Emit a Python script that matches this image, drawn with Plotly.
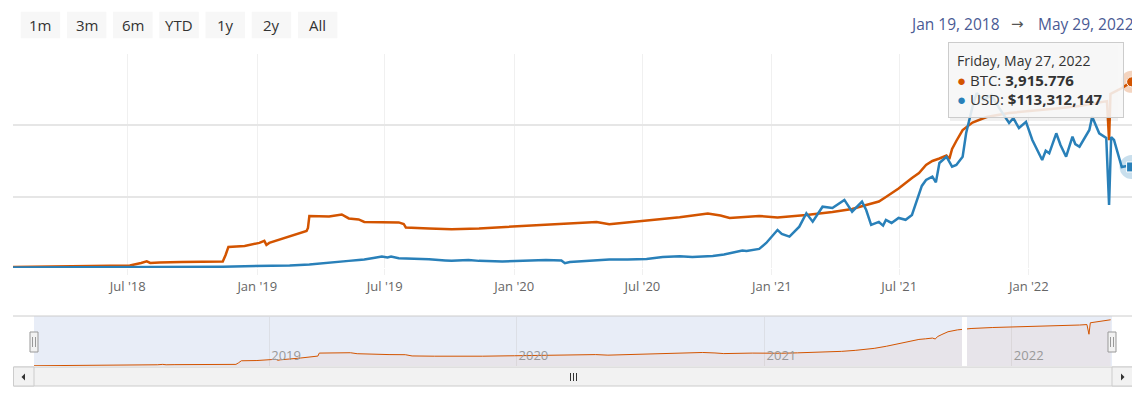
import plotly.graph_objects as go

# ---- data ----
btc_dates = [
    "2018-01-19", "2018-03-13", "2018-05-22", "2018-07-04", "2018-07-20", "2018-07-28",
    "2018-08-02", "2018-08-15", "2018-09-15", "2018-10-11", "2018-11-13", "2018-11-17",
    "2018-11-21", "2018-12-14", "2019-01-04", "2019-01-11", "2019-01-14", "2019-01-18",
    "2019-02-16", "2019-03-12", "2019-03-14", "2019-03-16", "2019-04-13", "2019-05-01",
    "2019-05-11", "2019-05-25", "2019-06-02", "2019-06-27", "2019-07-21", "2019-07-28",
    "2019-07-31", "2019-09-02", "2019-10-04", "2019-11-12", "2019-12-29", "2020-02-15",
    "2020-03-20", "2020-04-27", "2020-05-15", "2020-06-05", "2020-07-07", "2020-08-23",
    "2020-10-02", "2020-10-20", "2020-11-02", "2020-12-14", "2021-01-09", "2021-01-26",
    "2021-02-19", "2021-03-28", "2021-04-25", "2021-05-15", "2021-06-02", "2021-06-12",
    "2021-06-30", "2021-07-19", "2021-07-29", "2021-08-08", "2021-08-17", "2021-08-27",
    "2021-09-06", "2021-09-10", "2021-09-14", "2021-09-20", "2021-09-29", "2021-10-13",
    "2021-11-02", "2021-12-04", "2022-01-06", "2022-02-09", "2022-03-14", "2022-04-11",
    "2022-04-22", "2022-04-25", "2022-04-27", "2022-05-13", "2022-05-27",
]
btc_values = [
    21, 30, 42, 52, 105, 137,
    105, 116, 126, 137, 137, 273,
    442, 463, 526, 568, 484, 526,
    673, 778, 841, 1094, 1083, 1125,
    1041, 1020, 967, 967, 957, 925,
    852, 831, 814, 831, 868, 919,
    940, 967, 919, 950, 995, 1066,
    1146, 1104, 1052, 1094, 1062, 1079,
    1115, 1178, 1241, 1325, 1398, 1493,
    1672, 1893, 1998, 2166, 2250, 2303,
    2366, 2290, 2503, 2671, 2902, 3060,
    3175, 3260, 3302, 3354, 3407, 3470,
    3510, 2690, 3660, 3785, 3915.776,
]

usd_dates = [
    "2018-01-19", "2018-04-01", "2018-07-04", "2018-09-15", "2018-11-13", "2018-12-14",
    "2019-01-18", "2019-02-16", "2019-03-16", "2019-04-13", "2019-05-11", "2019-05-25",
    "2019-06-02", "2019-06-15", "2019-06-27", "2019-07-05", "2019-07-10", "2019-07-21",
    "2019-08-10", "2019-09-02", "2019-09-25", "2019-10-04", "2019-10-28", "2019-11-12",
    "2019-12-15", "2020-01-15", "2020-02-15", "2020-03-08", "2020-03-13", "2020-03-20",
    "2020-04-27", "2020-05-15", "2020-06-10", "2020-07-07", "2020-07-30", "2020-08-23",
    "2020-09-10", "2020-10-09", "2020-10-25", "2020-11-02", "2020-11-20", "2020-11-26",
    "2020-12-14", "2020-12-24", "2021-01-09", "2021-01-15", "2021-01-26", "2021-02-09",
    "2021-02-19", "2021-02-28", "2021-03-14", "2021-03-28", "2021-04-14", "2021-04-25",
    "2021-05-09", "2021-05-15", "2021-05-22", "2021-06-02", "2021-06-08", "2021-06-12",
    "2021-06-20", "2021-06-30", "2021-07-10", "2021-07-19", "2021-07-29", "2021-08-02",
    "2021-08-08", "2021-08-17", "2021-08-22", "2021-08-27", "2021-09-06", "2021-09-14",
    "2021-09-20", "2021-09-29", "2021-10-04", "2021-10-13", "2021-10-19", "2021-10-28",
    "2021-11-09", "2021-11-20", "2021-12-04", "2021-12-10", "2021-12-18", "2021-12-28",
    "2022-01-06", "2022-01-20", "2022-01-25", "2022-01-30", "2022-02-09", "2022-02-15",
    "2022-02-23", "2022-03-04", "2022-03-08", "2022-03-14", "2022-03-28", "2022-04-01",
    "2022-04-11", "2022-04-21", "2022-04-25", "2022-04-28", "2022-05-02", "2022-05-09",
    "2022-05-13", "2022-05-20", "2022-05-27",
]
usd_values = [
    0.56e6, 0.56e6, 0.8e6, 1.1e6, 1.3e6, 1.9e6,
    2.2e6, 2.8e6, 3.9e6, 5.6e6, 7.9e6, 9.0e6,
    9.5e6, 11.2e6, 12.9e6, 11.8e6, 12.7e6, 10.9e6,
    10.7e6, 9.8e6, 8.4e6, 7.9e6, 9.0e6, 7.9e6,
    7.1e6, 7.9e6, 9.0e6, 8.4e6, 5.3e6, 6.7e6,
    9.0e6, 9.5e6, 9.5e6, 10.1e6, 12.3e6, 13.1e6,
    12.3e6, 13.5e6, 15.1e6, 16.5e6, 19.6e6, 19.1e6,
    21.3e6, 28.0e6, 42.6e6, 38.1e6, 35.1e6, 46.3e6,
    61.3e6, 51.9e6, 68.7e6, 67.3e6, 76.3e6, 63.1e6,
    74.4e6, 65.0e6, 48.2e6, 51.6e6, 47.5e6, 53.8e6,
    50.5e6, 56.1e6, 54.0e6, 59.4e6, 83.8e6, 92.0e6,
    98.7e6, 102.4e6, 96.0e6, 117.8e6, 124.8e6, 113.6e6,
    115.5e6, 124.8e6, 151.4e6, 180.9e6, 196.3e6, 188.4e6,
    194.0e6, 179.4e6, 162.6e6, 168.0e6, 157.0e6, 164.0e6,
    143.6e6, 121.1e6, 131.5e6, 128.6e6, 151.1e6, 138.0e6,
    124.8e6, 147.3e6, 139.0e6, 136.0e6, 154.8e6, 169.7e6,
    151.1e6, 146.0e6, 70.7e6, 146.9e6, 143.6e6, 124.5e6,
    113.3e6, 114.4e6, 113312147,
]

tick_dates = ["2018-07-01", "2019-01-01", "2019-07-01", "2020-01-01",
              "2020-07-01", "2021-01-01", "2021-07-01", "2022-01-01"]
tick_labels = ["Jul '18", "Jan '19", "Jul '19", "Jan '20",
               "Jul '20", "Jan '21", "Jul '21", "Jan '22"]
nav_tick_dates = ["2019-01-01", "2020-01-01", "2021-01-01", "2022-01-01"]
nav_tick_labels = ["2019", "2020", "2021", "2022"]
range_buttons = ["1m", "3m", "6m", "YTD", "1y", "2y", "All"]
date_from = "Jan 19, 2018"
date_to = "May 29, 2022"
hover_day = "Friday, May 27, 2022"
x_range = ["2018-01-19", "2022-05-29"]

ORANGE = "#d35400"
BLUE = "#2980b9"
FONT = "Open Sans"


# page pixel -> paper helpers (plot area spans page x 13..1133, y 54..386;
# the page body adds an 8px margin so the figure itself starts at 8,8)
def fx(x):
    return (x - 13) / 1120


def fy(y):
    return (386 - y) / 332


fig = go.Figure()

# main series
fig.add_trace(go.Scatter(x=btc_dates, y=btc_values, mode='lines', name='BTC',
                         line=dict(color=ORANGE, width=2.5), xaxis='x', yaxis='y'))
fig.add_trace(go.Scatter(x=usd_dates, y=usd_values, mode='lines', name='USD',
                         line=dict(color=BLUE, width=2.5), xaxis='x', yaxis='y2'))

# hover halos + markers on the last point
fig.add_trace(go.Scatter(x=[btc_dates[-1]], y=[btc_values[-1]], mode='markers', cliponaxis=False,
                         marker=dict(size=22, color='rgba(211,84,0,0.25)'), xaxis='x', yaxis='y'))
fig.add_trace(go.Scatter(x=[btc_dates[-1]], y=[btc_values[-1]], mode='markers', cliponaxis=False,
                         marker=dict(size=10, color=ORANGE, line=dict(color='white', width=1)),
                         xaxis='x', yaxis='y'))
fig.add_trace(go.Scatter(x=[usd_dates[-1]], y=[usd_values[-1]], mode='markers', cliponaxis=False,
                         marker=dict(size=24, color='rgba(41,128,185,0.25)'), xaxis='x', yaxis='y2'))
fig.add_trace(go.Scatter(x=[usd_dates[-1]], y=[usd_values[-1]], mode='markers', cliponaxis=False,
                         marker=dict(size=10, symbol='square', color=BLUE, line=dict(color='white', width=1)),
                         xaxis='x', yaxis='y2'))

# navigator series
fig.add_trace(go.Scatter(x=btc_dates, y=btc_values, mode='lines', fill='tozeroy',
                         fillcolor='rgba(211,84,0,0.05)', line=dict(color=ORANGE, width=1),
                         xaxis='x2', yaxis='y3'))

shapes = []
annotations = []

# range buttons
for i, label in enumerate(range_buttons):
    left = 20.7 + i * 46.2
    shapes.append(dict(type='rect', xref='paper', yref='paper',
                       x0=fx(left), x1=fx(left + 39.5), y0=fy(38.3), y1=fy(11.7),
                       fillcolor='#f7f7f7', line=dict(width=0)))
    annotations.append(dict(text=label, xref='paper', yref='paper', x=fx(left + 19.75), y=fy(25),
                            xanchor='center', yanchor='middle', showarrow=False,
                            font=dict(family=FONT, size=15, color='#333333')))

# date range display
annotations.append(dict(text=date_from, xref='paper', yref='paper', x=fx(1002), y=fy(24),
                        xanchor='right', yanchor='middle', showarrow=False,
                        font=dict(family=FONT, size=15.5, color='#4a5a94')))
annotations.append(dict(text="\u2192", xref='paper', yref='paper', x=fx(1017), y=fy(24),
                        xanchor='center', yanchor='middle', showarrow=False,
                        font=dict(family="DejaVu Sans", size=15, color='#555555')))
annotations.append(dict(text=date_to, xref='paper', yref='paper', x=fx(1036), y=fy(24),
                        xanchor='left', yanchor='middle', showarrow=False,
                        font=dict(family=FONT, size=15.5, color='#4a5a94')))

# tooltip
tip = (f"<span style='font-size:14px'>{hover_day}</span><br>"
       f"<span style='color:{ORANGE}'>\u25cf</span> BTC: <b>{btc_values[-1]:,.3f}</b><br>"
       f"<span style='color:{BLUE}'>\u25cf</span> USD: <b>${usd_values[-1]:,.0f}</b>")
shapes.append(dict(type='rect', xref='paper', yref='paper', layer='above',
                   x0=fx(950), x1=fx(1118), y0=fy(121), y1=fy(45),
                   fillcolor='rgba(0,0,0,0.06)', line=dict(width=0)))
annotations.append(dict(text=tip, xref='paper', yref='paper', x=fx(947.5), y=fy(41.7),
                        xanchor='left', yanchor='top', align='left', showarrow=False,
                        width=158, height=58, borderpad=8, borderwidth=1,
                        bgcolor='rgba(247,247,247,0.88)', bordercolor='#cccccc',
                        font=dict(family=FONT, size=15, color='#333333')))

# navigator background (selected range mask) + odd gap
shapes.append(dict(type='rect', xref='paper', yref='paper', layer='below',
                   x0=fx(34), x1=fx(1112), y0=fy(366), y1=fy(316),
                   fillcolor='rgba(102,133,204,0.15)', line=dict(width=0)))
shapes.append(dict(type='rect', xref='paper', yref='paper', layer='above',
                   x0=fx(962), x1=fx(967), y0=fy(366), y1=fy(317),
                   fillcolor='white', line=dict(width=0)))
shapes.append(dict(type='line', xref='paper', yref='paper',
                   x0=fx(13), x1=fx(1133), y0=fy(316), y1=fy(316),
                   line=dict(color='#cccccc', width=1)))

# scrollbar
shapes.append(dict(type='rect', xref='paper', yref='paper',
                   x0=fx(13.5), x1=fx(1132.5), y0=fy(386), y1=fy(367),
                   fillcolor='#f2f2f2', line=dict(color='#cccccc', width=1)))
for a, b in [(13.5, 34), (1112, 1132.5)]:
    shapes.append(dict(type='rect', xref='paper', yref='paper',
                       x0=fx(a), x1=fx(b), y0=fy(386), y1=fy(367),
                       fillcolor='#f2f2f2', line=dict(color='#cccccc', width=1)))
shapes.append(dict(type='path', xref='paper', yref='paper',
                   path=f"M {fx(25)} {fy(373.5)} L {fx(25)} {fy(380.5)} L {fx(21.5)} {fy(377)} Z",
                   fillcolor='#333333', line=dict(width=0)))
shapes.append(dict(type='path', xref='paper', yref='paper',
                   path=f"M {fx(1121)} {fy(373.5)} L {fx(1121)} {fy(380.5)} L {fx(1124.5)} {fy(377)} Z",
                   fillcolor='#333333', line=dict(width=0)))
for gx in [570.5, 573.5, 576.5]:
    shapes.append(dict(type='line', xref='paper', yref='paper',
                       x0=fx(gx), x1=fx(gx), y0=fy(373), y1=fy(381),
                       line=dict(color='#333333', width=1)))

# navigator handles
for hx in [34, 1112]:
    shapes.append(dict(type='rect', xref='paper', yref='paper', layer='above',
                       x0=fx(hx - 4), x1=fx(hx + 4), y0=fy(352), y1=fy(332),
                       fillcolor='#f2f2f2', line=dict(color='#999999', width=1)))
    for dx in [-1.5, 1.5]:
        shapes.append(dict(type='line', xref='paper', yref='paper', layer='above',
                           x0=fx(hx + dx), x1=fx(hx + dx), y0=fy(347), y1=fy(337),
                           line=dict(color='#999999', width=1)))

fig.update_layout(
    width=1132, height=400,
    margin=dict(l=5, r=7, t=46, b=22),
    paper_bgcolor='white', plot_bgcolor='white',
    showlegend=False,
    hovermode=False,
    font=dict(family=FONT, size=13, color='#666666'),
    xaxis=dict(domain=[0, 1], anchor='y', range=x_range, type='date',
               tickvals=tick_dates, ticktext=tick_labels,
               showgrid=True, gridcolor='#f0f0f0', gridwidth=1,
               ticks='outside', ticklen=6, tickcolor='#f0f0f0',
               tickfont=dict(family=FONT, size=13, color='#666666'),
               showline=False, zeroline=False),
    yaxis=dict(domain=[fy(268), 1], anchor='x', range=[-2, 4502], dtick=1500, tick0=0,
               showticklabels=False, showgrid=True, gridcolor='#e6e6e6', gridwidth=1.5,
               zeroline=False, showline=False),
    yaxis2=dict(overlaying='y', side='right', anchor='x', range=[-0.107e6, 240.107e6],
                showticklabels=False, showgrid=False, zeroline=False,
                showline=True, linecolor='#e6e6e6', linewidth=1),
    xaxis2=dict(domain=[fx(34), fx(1112)], anchor='y3', range=x_range, type='date',
                tickvals=nav_tick_dates, ticktext=nav_tick_labels,
                ticklabelposition='inside', ticklabelshift=17, ticks='',
                showgrid=True, gridcolor='#dcdfe6', gridwidth=1,
                tickfont=dict(family=FONT, size=13, color='#999999'),
                showline=False, zeroline=False),
    yaxis3=dict(domain=[fy(366), fy(317)], anchor='x2', range=[0, 4150],
                showticklabels=False, showgrid=False, zeroline=False, showline=False),
    shapes=shapes,
    annotations=annotations,
)

fig.write_html("out.html")
